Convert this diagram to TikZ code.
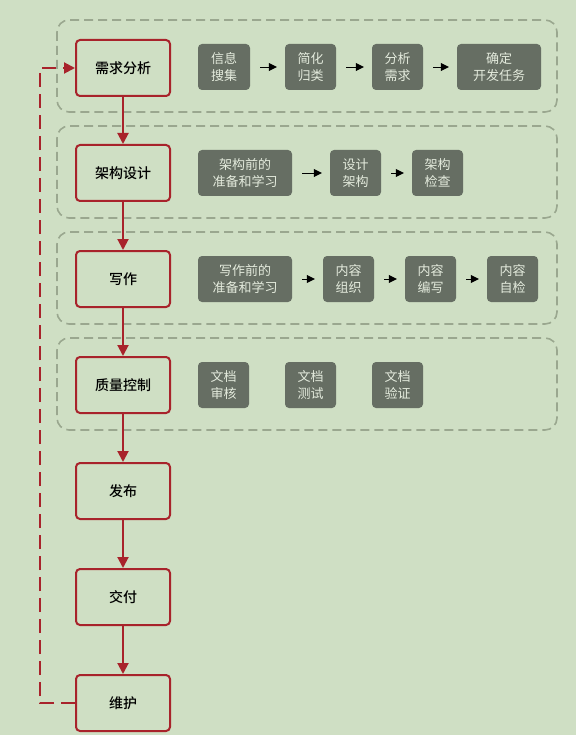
\documentclass[tikz,border=0pt]{standalone}
\usepackage{fontspec}
\usepackage{xcolor}
\usepackage{tikz}
\usetikzlibrary{arrows.meta}
\newfontfamily\cjk{Noto Sans CJK SC}
\newfontfamily\cjkmed{Noto Sans CJK SC Medium}
\definecolor{bgGreen}{HTML}{CFDFC4}
\definecolor{mainRed}{HTML}{A8232B}
\definecolor{subGray}{HTML}{666E63}
\definecolor{subText}{HTML}{E4EBDD}
\definecolor{grpGray}{HTML}{9AA78F}

\begin{document}
\begin{tikzpicture}[
  x=1pt, y=-1pt,
  >=Triangle,
  stage/.style={draw=mainRed,line width=2pt,rounded corners=4pt,fill=bgGreen,
    minimum width=94pt,minimum height=56pt,inner sep=0pt,font=\cjkmed\fontsize{14}{16}\selectfont},
  sub/.style={fill=subGray,rounded corners=4pt,text=subText,align=center,
    minimum height=46pt,inner sep=0pt,font=\cjk\fontsize{13}{17}\selectfont},
  flow/.style={->,mainRed,line width=2pt,>={Triangle[length=11pt,width=11pt]}},
  link/.style={->,black,thin,shorten <=10pt,shorten >=8pt,>={Triangle[length=8pt,width=8pt]}},
  grp/.style={draw=grpGray,line width=1.6pt,dash pattern=on 9pt off 5pt,rounded corners=12pt},
  loop/.style={->,mainRed,line width=2pt,dash pattern=on 14pt off 7pt,>={Triangle[length=11pt,width=11pt]}}
]
  \useasboundingbox[fill=bgGreen] (0,0) rectangle (576,735);

  \draw[grp] (57,20) rectangle (557,112);
  \draw[grp] (57,126) rectangle (557,218);
  \draw[grp] (57,232) rectangle (557,324);
  \draw[grp] (57,338) rectangle (557,430);

  \node[stage] (req) at (123,68) {需求分析};
  \node[stage] (arch) at (123,173) {架构设计};
  \node[stage] (write) at (123,279) {写作};
  \node[stage] (qc) at (123,385) {质量控制};
  \node[stage] (pub) at (123,491) {发布};
  \node[stage] (deliv) at (123,597) {交付};
  \node[stage] (maint) at (123,703) {维护};

  \draw[flow] (req) -- (arch);
  \draw[flow] (arch) -- (write);
  \draw[flow] (write) -- (qc);
  \draw[flow] (qc) -- (pub);
  \draw[flow] (pub) -- (deliv);
  \draw[flow] (deliv) -- (maint);
  \draw[loop] (maint.west) -- ++(-35,0) |- (req.west);

  \node[sub,minimum width=52pt] (r1) at (224,67) {信息\\搜集};
  \node[sub,minimum width=51pt] (r2) at (310.5,67) {简化\\归类};
  \node[sub,minimum width=51pt] (r3) at (397.5,67) {分析\\需求};
  \node[sub,minimum width=84pt] (r4) at (499,67) {确定\\开发任务};
  \draw[link] (r1) -- (r2);
  \draw[link] (r2) -- (r3);
  \draw[link] (r3) -- (r4);

  \node[sub,minimum width=94pt] (a1) at (245,173) {架构前的\\准备和学习};
  \node[sub,minimum width=51pt] (a2) at (355.5,173) {设计\\架构};
  \node[sub,minimum width=51pt] (a3) at (437.5,173) {架构\\检查};
  \draw[link] (a1) -- (a2);
  \draw[link] (a2) -- (a3);

  \node[sub,minimum width=94pt] (w1) at (245,279) {写作前的\\准备和学习};
  \node[sub,minimum width=51pt] (w2) at (348.5,279) {内容\\组织};
  \node[sub,minimum width=51pt] (w3) at (430.5,279) {内容\\编写};
  \node[sub,minimum width=51pt] (w4) at (512.5,279) {内容\\自检};
  \draw[link] (w1) -- (w2);
  \draw[link] (w2) -- (w3);
  \draw[link] (w3) -- (w4);

  \node[sub,minimum width=51pt] (q1) at (223.5,385) {文档\\审核};
  \node[sub,minimum width=51pt] (q2) at (310.5,385) {文档\\测试};
  \node[sub,minimum width=51pt] (q3) at (397.5,385) {文档\\验证};
\end{tikzpicture}
\end{document}
